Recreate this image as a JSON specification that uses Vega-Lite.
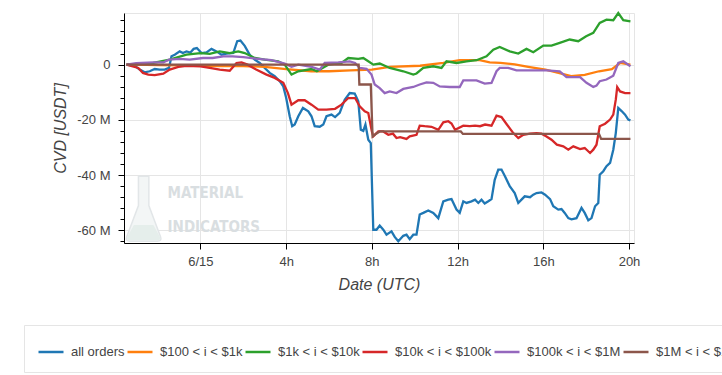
{
  "$schema": "https://vega.github.io/schema/vega-lite/v6.json",
  "width": 510,
  "height": 230,
  "autosize": {"type": "none"},
  "padding": {"left": 124, "top": 13, "right": 88, "bottom": 132},
  "background": "#ffffff",
  "config": {"view": {"stroke": "#e5e5e5"}, "font": "Liberation Sans"},
  "resolve": {"axis": {"x": "independent", "y": "independent"}},
  "datasets": {
    "all": [
      {"t":"2023-06-14T20:33Z","v":0},{"t":"2023-06-14T20:56Z","v":-0.4},{"t":"2023-06-14T21:10Z","v":-1.8},{"t":"2023-06-14T21:24Z","v":-2.8},{"t":"2023-06-14T21:38Z","v":-2.4},{"t":"2023-06-14T21:52Z","v":-1.6},{"t":"2023-06-14T22:06Z","v":-1.8},{"t":"2023-06-14T22:20Z","v":-1.8},{"t":"2023-06-14T22:32Z","v":-1.2},{"t":"2023-06-14T22:39Z","v":3.0},{"t":"2023-06-14T22:48Z","v":3.6},{"t":"2023-06-14T23:02Z","v":4.8},{"t":"2023-06-14T23:11Z","v":4.2},{"t":"2023-06-14T23:21Z","v":4.8},{"t":"2023-06-14T23:32Z","v":4.4},{"t":"2023-06-14T23:41Z","v":5.7},{"t":"2023-06-14T23:50Z","v":6.0},
      {"t":"2023-06-15T00:03Z","v":4.2},{"t":"2023-06-15T00:17Z","v":4.4},{"t":"2023-06-15T00:31Z","v":5.7},{"t":"2023-06-15T00:45Z","v":4.8},{"t":"2023-06-15T00:59Z","v":3.6},{"t":"2023-06-15T01:13Z","v":4.0},{"t":"2023-06-15T01:32Z","v":4.2},{"t":"2023-06-15T01:43Z","v":8.5},{"t":"2023-06-15T01:52Z","v":8.7},{"t":"2023-06-15T02:04Z","v":6.8},{"t":"2023-06-15T02:18Z","v":3.6},{"t":"2023-06-15T02:32Z","v":1.8},{"t":"2023-06-15T02:46Z","v":0.6},{"t":"2023-06-15T03:00Z","v":-1.2},{"t":"2023-06-15T03:14Z","v":-3.0},{"t":"2023-06-15T03:28Z","v":-4.2},{"t":"2023-06-15T03:42Z","v":-6.0},{"t":"2023-06-15T03:52Z","v":-7.9},
      {"t":"2023-06-15T04:00Z","v":-12.0},{"t":"2023-06-15T04:10Z","v":-18.7},{"t":"2023-06-15T04:17Z","v":-22.3},{"t":"2023-06-15T04:24Z","v":-21.7},{"t":"2023-06-15T04:34Z","v":-18.7},{"t":"2023-06-15T04:47Z","v":-15.7},{"t":"2023-06-15T05:02Z","v":-16.9},{"t":"2023-06-15T05:11Z","v":-18.7},{"t":"2023-06-15T05:20Z","v":-22.3},{"t":"2023-06-15T05:34Z","v":-22.5},{"t":"2023-06-15T05:44Z","v":-21.7},{"t":"2023-06-15T05:53Z","v":-18.7},{"t":"2023-06-15T06:07Z","v":-18.1},{"t":"2023-06-15T06:17Z","v":-19.0},{"t":"2023-06-15T06:30Z","v":-17.5},{"t":"2023-06-15T06:44Z","v":-12.7},{"t":"2023-06-15T06:58Z","v":-10.3},{"t":"2023-06-15T07:12Z","v":-10.5},{"t":"2023-06-15T07:22Z","v":-13.3},{"t":"2023-06-15T07:29Z","v":-23.6},{"t":"2023-06-15T07:36Z","v":-24.0},{"t":"2023-06-15T07:42Z","v":-21.7},{"t":"2023-06-15T07:50Z","v":-27.2},{"t":"2023-06-15T07:57Z","v":-28.4},
      {"t":"2023-06-15T08:04Z","v":-59.8},{"t":"2023-06-15T08:13Z","v":-59.8},{"t":"2023-06-15T08:22Z","v":-58.3},{"t":"2023-06-15T08:32Z","v":-59.8},{"t":"2023-06-15T08:41Z","v":-61.6},{"t":"2023-06-15T08:55Z","v":-60.4},{"t":"2023-06-15T09:04Z","v":-62.4},{"t":"2023-06-15T09:14Z","v":-64.0},{"t":"2023-06-15T09:28Z","v":-62.0},{"t":"2023-06-15T09:37Z","v":-61.6},{"t":"2023-06-15T09:46Z","v":-63.2},{"t":"2023-06-15T09:56Z","v":-61.6},{"t":"2023-06-15T10:05Z","v":-61.6},{"t":"2023-06-15T10:14Z","v":-54.3},{"t":"2023-06-15T10:24Z","v":-53.7},{"t":"2023-06-15T10:38Z","v":-52.8},{"t":"2023-06-15T10:52Z","v":-53.7},{"t":"2023-06-15T11:06Z","v":-55.6},{"t":"2023-06-15T11:20Z","v":-49.5},{"t":"2023-06-15T11:34Z","v":-48.9},{"t":"2023-06-15T11:43Z","v":-48.7},{"t":"2023-06-15T11:57Z","v":-52.5},
      {"t":"2023-06-15T12:06Z","v":-53.7},{"t":"2023-06-15T12:16Z","v":-49.5},{"t":"2023-06-15T12:25Z","v":-50.1},{"t":"2023-06-15T12:39Z","v":-49.5},{"t":"2023-06-15T12:49Z","v":-48.9},{"t":"2023-06-15T12:58Z","v":-50.1},{"t":"2023-06-15T13:07Z","v":-48.9},{"t":"2023-06-15T13:16Z","v":-50.3},{"t":"2023-06-15T13:26Z","v":-49.5},{"t":"2023-06-15T13:35Z","v":-48.7},{"t":"2023-06-15T13:44Z","v":-41.7},{"t":"2023-06-15T13:54Z","v":-38.0},{"t":"2023-06-15T14:03Z","v":-38.0},{"t":"2023-06-15T14:13Z","v":-40.5},{"t":"2023-06-15T14:26Z","v":-44.0},{"t":"2023-06-15T14:40Z","v":-46.5},{"t":"2023-06-15T14:50Z","v":-50.1},{"t":"2023-06-15T14:59Z","v":-48.9},{"t":"2023-06-15T15:08Z","v":-47.7},{"t":"2023-06-15T15:23Z","v":-48.0},{"t":"2023-06-15T15:32Z","v":-47.1},{"t":"2023-06-15T15:41Z","v":-46.5},{"t":"2023-06-15T15:55Z","v":-46.3},
      {"t":"2023-06-15T16:05Z","v":-47.1},{"t":"2023-06-15T16:19Z","v":-48.7},{"t":"2023-06-15T16:28Z","v":-51.3},{"t":"2023-06-15T16:42Z","v":-52.5},{"t":"2023-06-15T16:51Z","v":-52.3},{"t":"2023-06-15T17:00Z","v":-53.7},{"t":"2023-06-15T17:10Z","v":-55.6},{"t":"2023-06-15T17:19Z","v":-56.0},{"t":"2023-06-15T17:33Z","v":-55.6},{"t":"2023-06-15T17:47Z","v":-51.9},{"t":"2023-06-15T17:56Z","v":-53.7},{"t":"2023-06-15T18:06Z","v":-56.4},{"t":"2023-06-15T18:15Z","v":-55.6},{"t":"2023-06-15T18:25Z","v":-51.3},{"t":"2023-06-15T18:34Z","v":-50.1},{"t":"2023-06-15T18:38Z","v":-39.9},{"t":"2023-06-15T18:48Z","v":-38.6},{"t":"2023-06-15T18:57Z","v":-36.8},{"t":"2023-06-15T19:07Z","v":-35.6},{"t":"2023-06-15T19:16Z","v":-30.8},{"t":"2023-06-15T19:23Z","v":-24.8},{"t":"2023-06-15T19:30Z","v":-15.7},{"t":"2023-06-15T19:40Z","v":-16.9},{"t":"2023-06-15T19:49Z","v":-18.1},{"t":"2023-06-15T19:58Z","v":-19.9},{"t":"2023-06-15T20:04Z","v":-20.2}
    ],
    "r100": [
      {"t":"2023-06-14T20:33Z","v":0},{"t":"2023-06-14T21:30Z","v":-0.1},{"t":"2023-06-14T22:00Z","v":-0.2},{"t":"2023-06-14T23:00Z","v":-0.3},{"t":"2023-06-15T00:00Z","v":-0.4},{"t":"2023-06-15T01:00Z","v":-0.5},{"t":"2023-06-15T02:00Z","v":-0.5},{"t":"2023-06-15T03:00Z","v":-0.8},{"t":"2023-06-15T04:00Z","v":-1.6},{"t":"2023-06-15T05:10Z","v":-2.4},{"t":"2023-06-15T06:00Z","v":-2.4},{"t":"2023-06-15T07:00Z","v":-2.1},{"t":"2023-06-15T08:00Z","v":-1.8},{"t":"2023-06-15T08:50Z","v":-0.8},{"t":"2023-06-15T10:15Z","v":-0.4},{"t":"2023-06-15T11:20Z","v":0.6},{"t":"2023-06-15T12:06Z","v":1.6},{"t":"2023-06-15T13:02Z","v":1.6},{"t":"2023-06-15T13:30Z","v":0.8},{"t":"2023-06-15T14:00Z","v":0.6},{"t":"2023-06-15T14:40Z","v":0.1},{"t":"2023-06-15T15:18Z","v":-0.8},{"t":"2023-06-15T16:06Z","v":-1.8},{"t":"2023-06-15T16:48Z","v":-3.2},{"t":"2023-06-15T17:18Z","v":-4.2},{"t":"2023-06-15T17:56Z","v":-3.7},{"t":"2023-06-15T18:36Z","v":-2.4},{"t":"2023-06-15T19:12Z","v":-1.6},{"t":"2023-06-15T19:35Z","v":0.6},{"t":"2023-06-15T20:04Z","v":0}
    ],
    "r1k": [
      {"t":"2023-06-14T20:33Z","v":0},{"t":"2023-06-14T21:10Z","v":0.3},{"t":"2023-06-14T21:48Z","v":0.6},{"t":"2023-06-14T22:34Z","v":1.8},{"t":"2023-06-14T23:21Z","v":3.6},{"t":"2023-06-15T00:00Z","v":4.2},{"t":"2023-06-15T00:26Z","v":3.9},{"t":"2023-06-15T00:54Z","v":4.8},{"t":"2023-06-15T01:22Z","v":4.2},{"t":"2023-06-15T01:46Z","v":4.8},{"t":"2023-06-15T02:04Z","v":4.2},{"t":"2023-06-15T02:32Z","v":2.4},{"t":"2023-06-15T03:00Z","v":1.8},{"t":"2023-06-15T03:38Z","v":1.2},{"t":"2023-06-15T03:56Z","v":0},{"t":"2023-06-15T04:15Z","v":-3.6},{"t":"2023-06-15T04:34Z","v":-2.4},{"t":"2023-06-15T05:11Z","v":-1.6},{"t":"2023-06-15T05:26Z","v":-2.4},{"t":"2023-06-15T05:58Z","v":0},{"t":"2023-06-15T06:35Z","v":0.6},{"t":"2023-06-15T06:54Z","v":2.4},{"t":"2023-06-15T07:22Z","v":2.1},{"t":"2023-06-15T07:36Z","v":2.4},{"t":"2023-06-15T07:50Z","v":1.2},{"t":"2023-06-15T08:04Z","v":0},{"t":"2023-06-15T08:22Z","v":0.4},{"t":"2023-06-15T08:50Z","v":-1.2},{"t":"2023-06-15T09:09Z","v":-1.8},{"t":"2023-06-15T09:28Z","v":-2.4},{"t":"2023-06-15T09:56Z","v":-3.6},{"t":"2023-06-15T10:05Z","v":-3.2},{"t":"2023-06-15T10:24Z","v":-1.2},{"t":"2023-06-15T10:52Z","v":-0.6},{"t":"2023-06-15T11:15Z","v":-1.2},{"t":"2023-06-15T11:29Z","v":1.2},{"t":"2023-06-15T11:57Z","v":0.6},{"t":"2023-06-15T12:25Z","v":1.2},{"t":"2023-06-15T12:53Z","v":1.6},{"t":"2023-06-15T13:21Z","v":3.0},{"t":"2023-06-15T13:40Z","v":5.4},{"t":"2023-06-15T13:58Z","v":6.4},{"t":"2023-06-15T14:26Z","v":4.8},{"t":"2023-06-15T14:50Z","v":4.0},{"t":"2023-06-15T15:13Z","v":5.7},{"t":"2023-06-15T15:32Z","v":4.5},{"t":"2023-06-15T16:00Z","v":6.9},{"t":"2023-06-15T16:23Z","v":6.9},{"t":"2023-06-15T16:46Z","v":7.9},{"t":"2023-06-15T17:14Z","v":9.1},{"t":"2023-06-15T17:38Z","v":8.5},{"t":"2023-06-15T18:00Z","v":10.3},{"t":"2023-06-15T18:20Z","v":11.5},{"t":"2023-06-15T18:38Z","v":15.1},{"t":"2023-06-15T18:57Z","v":16.3},{"t":"2023-06-15T19:16Z","v":16.1},{"t":"2023-06-15T19:30Z","v":18.7},{"t":"2023-06-15T19:44Z","v":16.1},{"t":"2023-06-15T20:04Z","v":15.7}
    ],
    "r10k": [
      {"t":"2023-06-14T20:33Z","v":0},{"t":"2023-06-14T21:06Z","v":-1.2},{"t":"2023-06-14T21:19Z","v":-3.0},{"t":"2023-06-14T21:34Z","v":-3.6},{"t":"2023-06-14T21:52Z","v":-3.8},{"t":"2023-06-14T22:16Z","v":-3.3},{"t":"2023-06-14T22:34Z","v":-1.8},{"t":"2023-06-14T22:58Z","v":-0.8},{"t":"2023-06-14T23:21Z","v":-0.4},{"t":"2023-06-15T00:00Z","v":-0.6},{"t":"2023-06-15T00:26Z","v":-1.2},{"t":"2023-06-15T00:54Z","v":-1.8},{"t":"2023-06-15T01:22Z","v":-2.2},{"t":"2023-06-15T01:41Z","v":0.6},{"t":"2023-06-15T01:55Z","v":0.8},{"t":"2023-06-15T02:12Z","v":0},{"t":"2023-06-15T02:36Z","v":-1.8},{"t":"2023-06-15T03:05Z","v":-3.6},{"t":"2023-06-15T03:28Z","v":-4.8},{"t":"2023-06-15T03:52Z","v":-6.6},{"t":"2023-06-15T04:05Z","v":-10.3},{"t":"2023-06-15T04:15Z","v":-14.5},{"t":"2023-06-15T04:34Z","v":-12.9},{"t":"2023-06-15T04:52Z","v":-12.9},{"t":"2023-06-15T05:11Z","v":-14.5},{"t":"2023-06-15T05:30Z","v":-16.3},{"t":"2023-06-15T05:53Z","v":-16.3},{"t":"2023-06-15T06:17Z","v":-16.0},{"t":"2023-06-15T06:35Z","v":-14.5},{"t":"2023-06-15T06:54Z","v":-12.1},{"t":"2023-06-15T07:13Z","v":-12.1},{"t":"2023-06-15T07:26Z","v":-15.1},{"t":"2023-06-15T07:40Z","v":-16.9},{"t":"2023-06-15T07:50Z","v":-17.5},
      {"t":"2023-06-15T08:00Z","v":-24.2},{"t":"2023-06-15T08:04Z","v":-26.0},{"t":"2023-06-15T08:18Z","v":-24.2},{"t":"2023-06-15T08:32Z","v":-24.2},{"t":"2023-06-15T08:46Z","v":-25.4},{"t":"2023-06-15T08:59Z","v":-25.0},{"t":"2023-06-15T09:09Z","v":-26.6},{"t":"2023-06-15T09:19Z","v":-26.3},{"t":"2023-06-15T09:37Z","v":-26.9},{"t":"2023-06-15T09:46Z","v":-26.0},{"t":"2023-06-15T10:05Z","v":-25.4},{"t":"2023-06-15T10:14Z","v":-22.1},{"t":"2023-06-15T10:28Z","v":-22.3},{"t":"2023-06-15T10:47Z","v":-22.5},{"t":"2023-06-15T11:06Z","v":-23.6},{"t":"2023-06-15T11:20Z","v":-20.9},{"t":"2023-06-15T11:34Z","v":-20.5},{"t":"2023-06-15T11:43Z","v":-21.3},{"t":"2023-06-15T11:53Z","v":-23.6},{"t":"2023-06-15T12:16Z","v":-22.1},{"t":"2023-06-15T12:34Z","v":-22.3},{"t":"2023-06-15T12:49Z","v":-22.1},{"t":"2023-06-15T13:03Z","v":-22.3},{"t":"2023-06-15T13:17Z","v":-21.7},{"t":"2023-06-15T13:35Z","v":-22.1},{"t":"2023-06-15T13:49Z","v":-18.5},{"t":"2023-06-15T14:03Z","v":-19.0},{"t":"2023-06-15T14:17Z","v":-21.5},{"t":"2023-06-15T14:36Z","v":-24.8},{"t":"2023-06-15T14:50Z","v":-26.6},{"t":"2023-06-15T15:04Z","v":-25.4},{"t":"2023-06-15T15:23Z","v":-25.0},{"t":"2023-06-15T15:41Z","v":-24.8},{"t":"2023-06-15T15:55Z","v":-25.0},{"t":"2023-06-15T16:09Z","v":-26.0},{"t":"2023-06-15T16:23Z","v":-27.2},{"t":"2023-06-15T16:38Z","v":-29.0},{"t":"2023-06-15T16:56Z","v":-29.6},{"t":"2023-06-15T17:10Z","v":-30.8},{"t":"2023-06-15T17:24Z","v":-29.6},{"t":"2023-06-15T17:43Z","v":-30.6},{"t":"2023-06-15T17:56Z","v":-30.2},{"t":"2023-06-15T18:11Z","v":-32.0},{"t":"2023-06-15T18:20Z","v":-30.8},{"t":"2023-06-15T18:29Z","v":-29.0},{"t":"2023-06-15T18:38Z","v":-22.3},{"t":"2023-06-15T18:53Z","v":-21.4},{"t":"2023-06-15T19:07Z","v":-19.9},{"t":"2023-06-15T19:16Z","v":-18.1},{"t":"2023-06-15T19:23Z","v":-12.7},{"t":"2023-06-15T19:27Z","v":-8.1},{"t":"2023-06-15T19:35Z","v":-9.7},{"t":"2023-06-15T19:49Z","v":-10.3},{"t":"2023-06-15T20:04Z","v":-10.3}
    ],
    "r100k": [
      {"t":"2023-06-14T20:33Z","v":0},{"t":"2023-06-14T21:00Z","v":0.5},{"t":"2023-06-14T21:48Z","v":0.8},{"t":"2023-06-14T22:16Z","v":0.8},{"t":"2023-06-14T22:32Z","v":1.8},{"t":"2023-06-14T23:02Z","v":2.1},{"t":"2023-06-14T23:30Z","v":1.8},{"t":"2023-06-15T00:07Z","v":2.4},{"t":"2023-06-15T00:34Z","v":2.4},{"t":"2023-06-15T01:04Z","v":3.0},{"t":"2023-06-15T01:30Z","v":3.0},{"t":"2023-06-15T02:00Z","v":2.7},{"t":"2023-06-15T02:41Z","v":2.1},{"t":"2023-06-15T03:19Z","v":1.6},{"t":"2023-06-15T03:56Z","v":0.4},{"t":"2023-06-15T04:15Z","v":-0.8},{"t":"2023-06-15T04:34Z","v":0},{"t":"2023-06-15T05:11Z","v":-0.8},{"t":"2023-06-15T05:34Z","v":-1.8},{"t":"2023-06-15T05:48Z","v":0.6},{"t":"2023-06-15T06:26Z","v":0.8},{"t":"2023-06-15T06:58Z","v":1.2},{"t":"2023-06-15T07:13Z","v":0.6},{"t":"2023-06-15T07:26Z","v":-1.2},{"t":"2023-06-15T07:45Z","v":-1.5},{"t":"2023-06-15T07:59Z","v":-3.6},{"t":"2023-06-15T08:08Z","v":-7.2},{"t":"2023-06-15T08:22Z","v":-8.5},{"t":"2023-06-15T08:36Z","v":-10.3},{"t":"2023-06-15T08:50Z","v":-9.7},{"t":"2023-06-15T09:09Z","v":-10.3},{"t":"2023-06-15T09:28Z","v":-8.8},{"t":"2023-06-15T09:56Z","v":-8.1},{"t":"2023-06-15T10:14Z","v":-7.2},{"t":"2023-06-15T10:33Z","v":-6.4},{"t":"2023-06-15T10:52Z","v":-6.6},{"t":"2023-06-15T11:10Z","v":-7.9},{"t":"2023-06-15T11:38Z","v":-8.1},{"t":"2023-06-15T12:06Z","v":-8.1},{"t":"2023-06-15T12:16Z","v":-5.7},{"t":"2023-06-15T12:53Z","v":-5.7},{"t":"2023-06-15T13:16Z","v":-6.9},{"t":"2023-06-15T13:35Z","v":-6.6},{"t":"2023-06-15T13:49Z","v":-2.4},{"t":"2023-06-15T13:58Z","v":-1.2},{"t":"2023-06-15T14:22Z","v":-1.2},{"t":"2023-06-15T14:45Z","v":-2.1},{"t":"2023-06-15T15:32Z","v":-2.1},{"t":"2023-06-15T16:09Z","v":-2.1},{"t":"2023-06-15T16:46Z","v":-2.4},{"t":"2023-06-15T17:05Z","v":-4.5},{"t":"2023-06-15T17:43Z","v":-4.5},{"t":"2023-06-15T18:01Z","v":-6.6},{"t":"2023-06-15T18:20Z","v":-8.1},{"t":"2023-06-15T18:29Z","v":-7.6},{"t":"2023-06-15T18:38Z","v":-6.0},{"t":"2023-06-15T18:57Z","v":-5.4},{"t":"2023-06-15T19:16Z","v":-4.0},{"t":"2023-06-15T19:30Z","v":0.6},{"t":"2023-06-15T19:44Z","v":1.2},{"t":"2023-06-15T20:04Z","v":-0.6}
    ],
    "r1m": [
      {"t":"2023-06-14T20:33Z","v":0},{"t":"2023-06-15T07:23Z","v":0},{"t":"2023-06-15T07:25Z","v":-7.2},{"t":"2023-06-15T07:57Z","v":-7.2},{"t":"2023-06-15T08:02Z","v":-26.0},{"t":"2023-06-15T08:12Z","v":-25.0},{"t":"2023-06-15T08:22Z","v":-24.2},{"t":"2023-06-15T12:09Z","v":-24.2},{"t":"2023-06-15T12:15Z","v":-25.1},{"t":"2023-06-15T18:36Z","v":-25.1},{"t":"2023-06-15T18:42Z","v":-26.9},{"t":"2023-06-15T20:04Z","v":-26.9}
    ]
  },
  "layer": [
    {
      "data": {"values": [{"item": "flask"}]},
      "mark": {"type": "point", "filled": true, "fill": "#f3f6f6", "stroke": "#e2e6e8", "strokeWidth": 1.5, "opacity": 1, "size": 4225,
        "shape": "M-0.16,-1 L0.16,-1 L0.16,-0.1 L0.52,0.86 Q0.57,1 0.42,1 L-0.42,1 Q-0.57,1 -0.52,0.86 L-0.16,-0.1 Z"},
      "encoding": {
        "x": {"datum": {"year": 2023, "month": 6, "date": 14, "hours": 21, "minutes": 21, "utc": true}, "type": "temporal", "axis": null},
        "y": {"datum": -52.2, "type": "quantitative", "axis": null}
      }
    },
    {
      "data": {"values": [{"item": "flask liquid"}]},
      "mark": {"type": "point", "filled": true, "fill": "#e5eeeb", "strokeWidth": 0, "opacity": 1, "size": 4225,
        "shape": "M-0.3,0.5 L0.3,0.5 L0.5,0.86 Q0.55,0.97 0.42,0.97 L-0.42,0.97 Q-0.55,0.97 -0.5,0.86 Z"},
      "encoding": {
        "x": {"datum": {"year": 2023, "month": 6, "date": 14, "hours": 21, "minutes": 21, "utc": true}, "type": "temporal", "axis": null},
        "y": {"datum": -52.2, "type": "quantitative", "axis": null}
      }
    },
    {
      "data": {"values": [{"item": "logo"}]},
      "mark": {"type": "text", "align": "left", "baseline": "middle", "font": "'DejaVu Sans Condensed', Roboto, 'Liberation Sans', sans-serif", "fontWeight": "bold", "fontSize": 15, "fill": "#d9dee1", "text": "MATERIAL"},
      "encoding": {
        "x": {"datum": {"year": 2023, "month": 6, "date": 14, "hours": 22, "minutes": 28, "utc": true}, "type": "temporal", "axis": null},
        "y": {"datum": -46.4, "type": "quantitative", "axis": null}
      }
    },
    {
      "data": {"values": [{"item": "logo"}]},
      "mark": {"type": "text", "align": "left", "baseline": "middle", "font": "'DejaVu Sans Condensed', Roboto, 'Liberation Sans', sans-serif", "fontWeight": "bold", "fontSize": 15, "fill": "#d9dee1", "text": "INDICATORS"},
      "encoding": {
        "x": {"datum": {"year": 2023, "month": 6, "date": 14, "hours": 22, "minutes": 28, "utc": true}, "type": "temporal", "axis": null},
        "y": {"datum": -58.9, "type": "quantitative", "axis": null}
      }
    },
    {
      "encoding": {
        "x": {
          "field": "t", "type": "temporal", "title": "Date (UTC)",
          "scale": {"type": "utc", "domain": [{"year": 2023, "month": 6, "date": 14, "hours": 20, "minutes": 26, "utc": true}, {"year": 2023, "month": 6, "date": 15, "hours": 20, "minutes": 14, "utc": true}]},
          "axis": {
            "orient": "bottom",
            "values": [
              {"year": 2023, "month": 6, "date": 15, "hours": 0, "utc": true},
              {"year": 2023, "month": 6, "date": 15, "hours": 4, "utc": true},
              {"year": 2023, "month": 6, "date": 15, "hours": 8, "utc": true},
              {"year": 2023, "month": 6, "date": 15, "hours": 12, "utc": true},
              {"year": 2023, "month": 6, "date": 15, "hours": 16, "utc": true},
              {"year": 2023, "month": 6, "date": 15, "hours": 20, "utc": true}
            ],
            "labelExpr": "utchours(datum.value) === 0 ? utcFormat(datum.value, '%-m/%d') : utchours(datum.value) + 'h'",
            "grid": true, "gridColor": "#e5e5e5", "domainColor": "#000000", "tickColor": "#000000", "tickSize": 6,
            "labelFontSize": 13, "labelColor": "#444444", "labelPadding": 6, "labelFlush": false, "labelOverlap": false,
            "titleFontSize": 16, "titleFontStyle": "italic", "titleFontWeight": "normal", "titleColor": "#444444", "titlePadding": 8
          }
        },
        "y": {
          "field": "v", "type": "quantitative", "title": "CVD [USDT]",
          "scale": {"domain": [-64.6, 18.7], "nice": false, "zero": false},
          "axis": {
            "orient": "left",
            "values": [16, 12, 8, 4, 0, -4, -8, -12, -16, -20, -24, -28, -32, -36, -40, -44, -48, -52, -56, -60, -64],
            "labelExpr": "datum.value % 20 === 0 ? (datum.value === 0 ? '0' : datum.value + ' M') : ''",
            "grid": true, "gridColor": "#e5e5e5",
            "gridOpacity": {"condition": {"test": "datum.value % 20 === 0", "value": 1}, "value": 0},
            "tickSize": {"condition": {"test": "datum.value % 20 === 0", "value": 6}, "value": 4},
            "domainColor": "#000000", "tickColor": "#000000",
            "labelFontSize": 13, "labelColor": "#444444", "labelPadding": 8, "labelOverlap": false,
            "titleFontSize": 16, "titleFontStyle": "italic", "titleFontWeight": "normal", "titleColor": "#444444", "titlePadding": 8
          }
        }
      },
      "layer": [
        {
          "data": {"name": "all"},
          "mark": {"type": "line", "strokeWidth": 2.3},
          "encoding": {
            "color": {
              "datum": "all orders", "type": "nominal",
              "scale": {
                "domain": ["all orders", "$100 < i < $1k", "$1k < i < $10k", "$10k < i < $100k", "$100k < i < $1M", "$1M < i < $10M"],
                "range": ["#1f77b4", "#ff7f0e", "#2ca02c", "#d62728", "#9467bd", "#8c564b"]
              },
              "legend": {
                "orient": "none", "legendX": -100, "legendY": 312, "direction": "horizontal", "title": null,
                "symbolType": "stroke", "symbolSize": 625, "symbolStrokeWidth": 2.5,
                "labelFontSize": 13, "labelColor": "#444444", "labelFont": "Liberation Sans", "labelLimit": 300,
                "strokeColor": "#e5e5e5", "fillColor": "#ffffff", "padding": 13, "columnPadding": -3, "labelOffset": 6
              }
            }
          }
        },
        {"data": {"name": "r100"}, "mark": {"type": "line", "strokeWidth": 2.3}, "encoding": {"color": {"datum": "$100 < i < $1k", "type": "nominal"}}},
        {"data": {"name": "r1k"}, "mark": {"type": "line", "strokeWidth": 2.3}, "encoding": {"color": {"datum": "$1k < i < $10k", "type": "nominal"}}},
        {"data": {"name": "r10k"}, "mark": {"type": "line", "strokeWidth": 2.3}, "encoding": {"color": {"datum": "$10k < i < $100k", "type": "nominal"}}},
        {"data": {"name": "r100k"}, "mark": {"type": "line", "strokeWidth": 2.3}, "encoding": {"color": {"datum": "$100k < i < $1M", "type": "nominal"}}},
        {"data": {"name": "r1m"}, "mark": {"type": "line", "strokeWidth": 2.3}, "encoding": {"color": {"datum": "$1M < i < $10M", "type": "nominal"}}}
      ]
    }
  ]
}
